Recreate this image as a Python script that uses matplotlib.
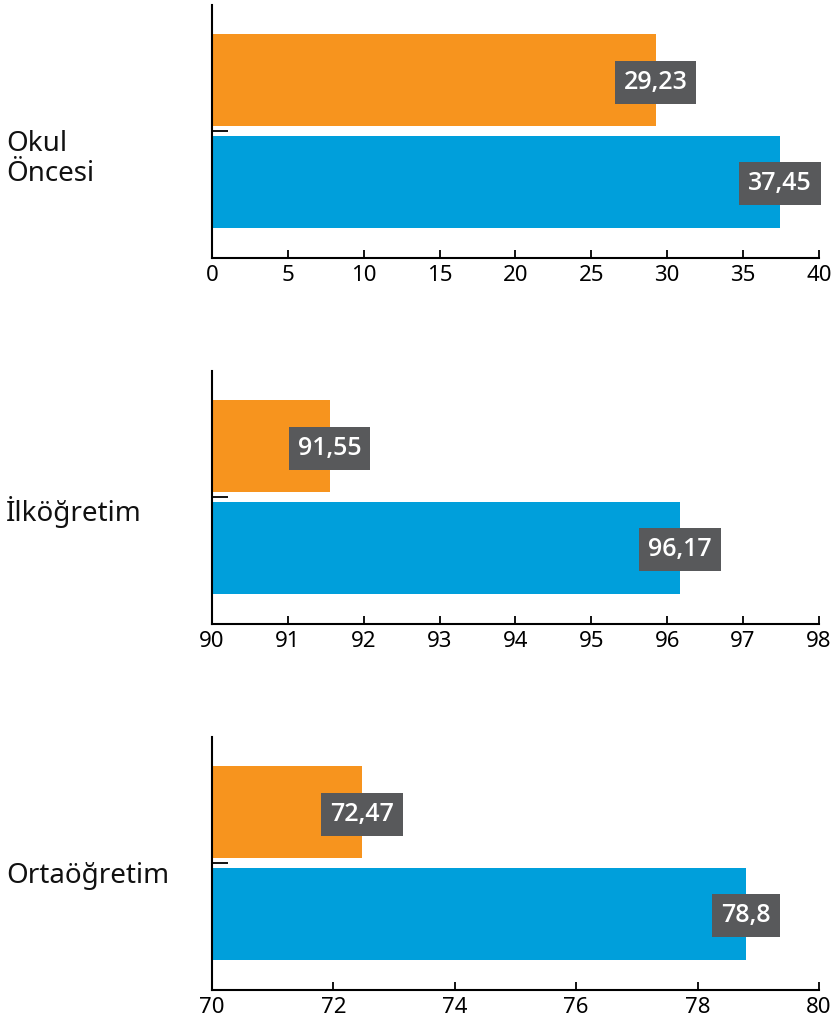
import matplotlib.pyplot as plt
import numpy as np

plt.rcParams['font.family'] = ['Noto Sans', 'DejaVu Sans']

# data
groups = ['Okul\nÖncesi', 'İlköğretim', 'Ortaöğretim']
orange_vals = [29.23, 91.55, 72.47]
blue_vals = [37.45, 96.17, 78.8]
orange_labels = ['29,23', '91,55', '72,47']
blue_labels = ['37,45', '96,17', '78,8']
x_ranges = [(0, 40), (90, 98), (70, 80)]
x_steps = [5, 1, 2]

ORANGE = '#F7941E'
BLUE = '#009FDB'
BOXC = '#58595B'

fig = plt.figure(figsize=(8.36, 10.18), dpi=100, facecolor='white')

bottoms = [0.7466, 0.387, 0.0275]
for i in range(3):
    ax = fig.add_axes([0.2536, bottoms[i], 0.726, 0.2487])
    lo, hi = x_ranges[i]
    ax.barh(1, orange_vals[i] - lo, left=lo, height=0.9, color=ORANGE)
    ax.barh(0, blue_vals[i] - lo, left=lo, height=0.9, color=BLUE)
    # value boxes
    box = dict(boxstyle='square,pad=0.36', fc=BOXC, ec='none')
    ax.text(orange_vals[i], 0.98, orange_labels[i], ha='center', va='center',
            color='white', fontsize=18, fontweight='semibold', bbox=box,
            family=['Open Sans', 'DejaVu Sans'])
    ax.text(blue_vals[i], -0.01, blue_labels[i], ha='center', va='center',
            color='white', fontsize=18, fontweight='semibold', bbox=box,
            family=['Open Sans', 'DejaVu Sans'])

    ax.set_xlim(lo, hi)
    ax.set_ylim(-0.74, 1.735)
    ax.set_xticks(np.arange(lo, hi + 0.001, x_steps[i]))
    ax.set_xticklabels([str(int(v)) for v in np.arange(lo, hi + 0.001, x_steps[i])])
    ax.set_yticks([0.5])
    ax.set_yticklabels([''])
    for s in ['top', 'right']:
        ax.spines[s].set_visible(False)
    ax.spines['left'].set_linewidth(1.5)
    ax.spines['bottom'].set_linewidth(1.5)
    ax.tick_params(axis='x', direction='in', length=6, width=1.3, labelsize=16, pad=5)
    ax.tick_params(axis='y', direction='in', length=11.5, width=1.3)

    ax.text(-0.339, 0.51, groups[i], transform=ax.get_yaxis_transform(),
            ha='left', va='top', fontsize=20, color='#111111', linespacing=1.1)

plt.savefig('out.png', dpi=100)
